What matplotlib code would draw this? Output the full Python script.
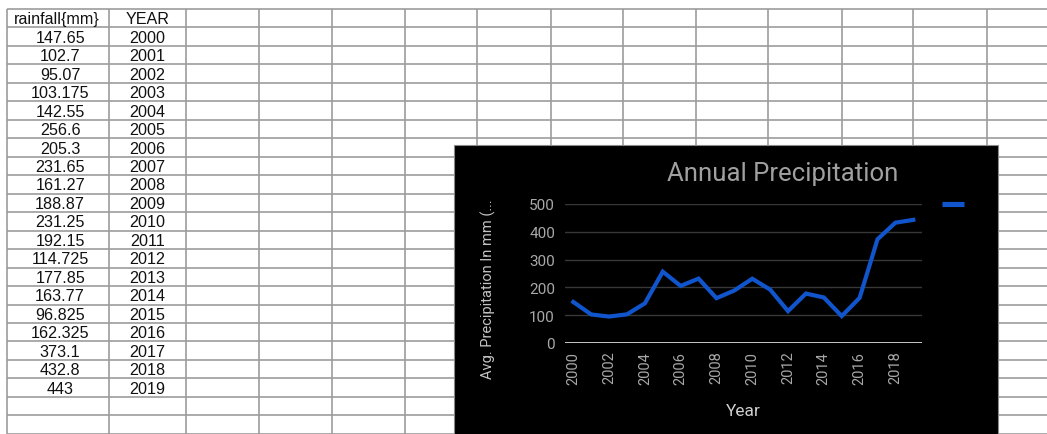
import matplotlib
matplotlib.use("Agg")
import matplotlib.pyplot as plt
from matplotlib.patches import Rectangle
from matplotlib.lines import Line2D

# ---- data ----
years = [2000, 2001, 2002, 2003, 2004, 2005, 2006, 2007, 2008, 2009,
         2010, 2011, 2012, 2013, 2014, 2015, 2016, 2017, 2018, 2019]
rainfall = [147.65, 102.7, 95.07, 103.175, 142.55, 256.6, 205.3, 231.65, 161.27, 188.87,
            231.25, 192.15, 114.725, 177.85, 163.77, 96.825, 162.325, 373.1, 432.8, 443]
headers = ["rainfall{mm}", "YEAR"]
y_ticks = [0, 100, 200, 300, 400, 500]
x_ticks = [2000, 2002, 2004, 2006, 2008, 2010, 2012, 2014, 2016, 2018]
title = "Annual Precipitation"
y_label = "Avg. Precipitation In mm (..."
x_label = "Year"

W, H = 1047, 435
fig = plt.figure(figsize=(W / 100, H / 100), dpi=100)
fig.patch.set_facecolor("white")

# ---- spreadsheet background (pixel coordinates) ----
bg = fig.add_axes([0, 0, 1, 1])
bg.set_xlim(0, W)
bg.set_ylim(H, 0)
bg.axis("off")

grid_color = "#9c9c9c"
col_edges = [7.3, 109, 185.7, 259.3, 331.5, 404.5, 477.3, 550.5, 622.7, 696,
             768.3, 841.7, 913.3, 986.7]
row_top = 10.0
row_h = 18.47
n_rows = 24
row_edges = [row_top + row_h * k for k in range(n_rows)]
bg.hlines(row_edges, col_edges[0], W, color=grid_color, lw=1.2, zorder=1)
bg.vlines(col_edges, row_top, H, color=grid_color, lw=1.2, zorder=1)

tfont = dict(family="Liberation Sans", fontsize=11.6, color="#111111",
             ha="center", va="center", zorder=2)
cA = (col_edges[0] + col_edges[1]) / 2 + 2
cB = (col_edges[1] + col_edges[2]) / 2
bg.text(cA - 3.5, row_top + row_h * 0.5 + 0.5, headers[0], **tfont)
bg.text(cB, row_top + row_h * 0.5 + 0.5, headers[1], **tfont)
for i, (yr, v) in enumerate(zip(years, rainfall)):
    yc = row_top + row_h * (i + 1.5) + 0.5
    bg.text(cA, yc, f"{v:g}", **tfont)
    bg.text(cB, yc, str(yr), **tfont)

# ---- embedded chart panel ----
cx0, cy0, cx1 = 454, 146, 997.7
bg.add_patch(Rectangle((cx0, cy0), cx1 - cx0, H - cy0 + 5, facecolor="black",
                       edgecolor="#8a8a8a", lw=0.8, zorder=3))

cfont = "Roboto"
bg.text(783, 174, title, family=cfont, fontsize=18.5, color="#a0a0a0",
        ha="center", va="center", zorder=4)
bg.text(488.5, 289, y_label, family=cfont, fontsize=10.5, color="#c4c4c4",
        rotation=90, ha="center", va="center", zorder=4)
bg.text(743, 412, x_label, family=cfont, fontsize=12.5, color="#cfcfcf",
        ha="center", va="center", zorder=4)

# plot area
px0, px1 = 565, 922
py_top, py_bot = 205, 344
ax = fig.add_axes([px0 / W, (H - py_bot) / H, (px1 - px0) / W, (py_bot - py_top) / H])
ax.set_facecolor("none")
ax.set_zorder(5)
for s in ax.spines.values():
    s.set_visible(False)
ax.set_ylim(0, 500)
ax.set_xlim(2000 - 8.3 / 17.9, 2019 + 8.7 / 17.9)
ax.set_yticks(y_ticks)
ax.set_xticks(x_ticks)
ax.set_xticklabels([str(t) for t in x_ticks], rotation=90, family=cfont,
                   fontsize=10.5, color="#a8a8a8")
ax.set_yticklabels([str(t) for t in y_ticks], family=cfont, fontsize=11,
                   color="#a8a8a8")
ax.tick_params(axis="both", length=0)
ax.tick_params(axis="y", pad=7.2)
ax.tick_params(axis="x", pad=5.5)
for t in y_ticks[1:]:
    ax.axhline(t, color="#383838", lw=1.0, zorder=1)
ax.axhline(0, color="#c8c8c8", lw=1.4, zorder=2)

blue = "#1155cc"
line, = ax.plot(years, rainfall, color=blue, lw=3.0, zorder=3,
                solid_joinstyle="miter", clip_on=False)

proxy = Line2D([], [], color=blue, lw=3.7, solid_capstyle="butt")
ax.legend(handles=[proxy], labels=[""], loc="center left",
          bbox_to_anchor=(941.7 / W, (H - 206.3) / H), bbox_transform=fig.transFigure,
          frameon=False, handlelength=1.63, borderpad=0, borderaxespad=0,
          handletextpad=0, fontsize=10)

fig.savefig("out.png", dpi=100, facecolor="white")
